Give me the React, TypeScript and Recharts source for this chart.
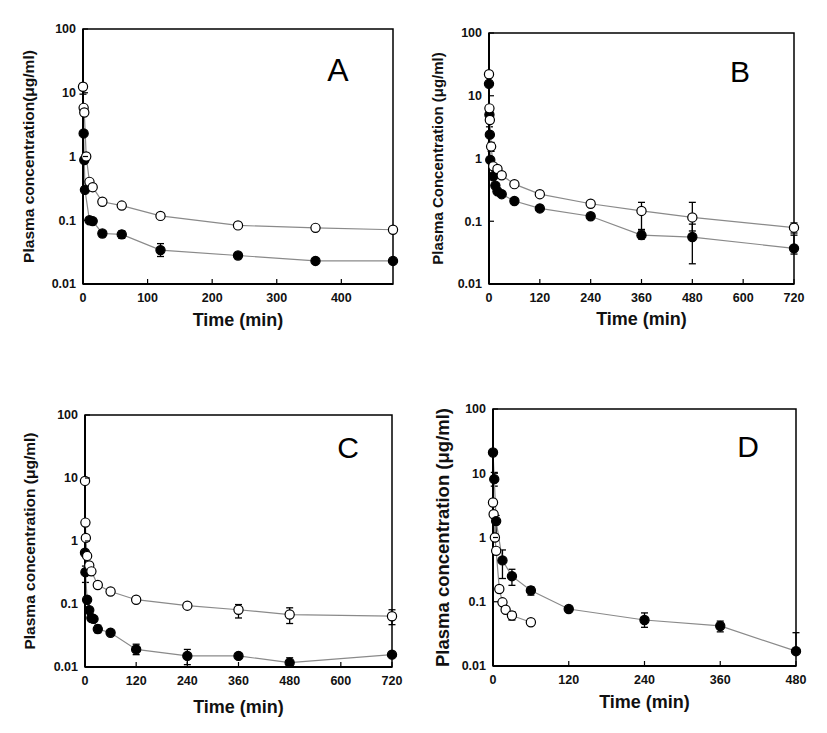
import React from "react";
import { LineChart, Line, XAxis, YAxis, ErrorBar, ReferenceArea } from "recharts";

const FONT = '"Liberation Sans", Arial, Helvetica, sans-serif';
const Y_TICKS = [0.01, 0.1, 1, 10, 100];

// Panel A
const timeA_open = [0, 1, 2, 5, 10, 15, 30, 60, 120, 240, 360, 480];
const concA_open = [12.4, 5.8, 4.9, 1.0, 0.4, 0.33, 0.195, 0.17, 0.117, 0.083, 0.076, 0.071];
const barsA_open = [[0, 9.5, 14]];
const timeA_filled = [1, 2, 3, 10, 15, 30, 60, 120, 240, 360, 480];
const concA_filled = [2.3, 0.88, 0.3, 0.1, 0.097, 0.062, 0.06, 0.034, 0.028, 0.023, 0.023];
const barsA_filled = [[30, 0.055, 0.068], [60, 0.052, 0.068], [120, 0.027, 0.043], [240, 0.025, 0.031], [360, 0.021, 0.025]];

// Panel B
const timeB_open = [0, 1, 2, 5, 10, 20, 30, 60, 120, 240, 360, 480, 720];
const concB_open = [22, 6.3, 4.1, 1.55, 0.75, 0.68, 0.54, 0.39, 0.27, 0.19, 0.146, 0.115, 0.079];
const barsB_open = [[5, 1.3, 1.8], [360, 0.074, 0.2], [480, 0.07, 0.2], [720, 0.065, 0.094]];
const timeB_filled = [0, 1, 2, 3, 10, 15, 20, 30, 60, 120, 240, 360, 480, 720];
const concB_filled = [15.5, 5.0, 2.4, 0.95, 0.52, 0.37, 0.3, 0.27, 0.21, 0.16, 0.12, 0.06, 0.056, 0.037];
const barsB_filled = [[1, 3.2, 6.2], [360, 0.052, 0.07], [480, 0.021, 0.09], [720, 0.03, 0.06]];

// Panel C
const timeC_open = [0, 1, 2, 5, 10, 15, 30, 60, 120, 240, 360, 480, 720];
const concC_open = [9.0, 1.96, 1.12, 0.58, 0.41, 0.33, 0.2, 0.158, 0.117, 0.094, 0.081, 0.068, 0.064];
const barsC_open = [[360, 0.06, 0.098], [480, 0.049, 0.087], [720, 0.047, 0.081]];
const timeC_filled = [0, 1, 5, 10, 15, 20, 30, 60, 120, 240, 360, 480, 720];
const concC_filled = [0.65, 0.32, 0.117, 0.08, 0.06, 0.058, 0.04, 0.035, 0.019, 0.015, 0.015, 0.0117, 0.0157];
const barsC_filled = [[1, 0.22, 0.4], [30, 0.035, 0.046], [120, 0.0157, 0.023], [240, 0.0109, 0.019], [480, 0.0105, 0.014]];

// Panel D
const timeD_open = [0, 1, 3, 5, 10, 15, 20, 30, 60];
const concD_open = [3.5, 2.3, 1.0, 0.62, 0.158, 0.098, 0.075, 0.061, 0.048];
const barsD_open = [[30, 0.052, 0.07]];
const timeD_filled = [0, 2, 5, 15, 30, 60, 120, 240, 360, 480];
const concD_filled = [21, 8.1, 1.8, 0.44, 0.25, 0.15, 0.077, 0.052, 0.042, 0.017];
const barsD_filled = [[2, 6.3, 10.3], [5, 0.9, 2.2], [15, 0.23, 0.64], [30, 0.18, 0.32], [60, 0.127, 0.17], [240, 0.04, 0.067], [360, 0.034, 0.05], [480, 0.017, 0.033]];

const build = (t: number[], c: number[], bars: number[][]) =>
  t.map((ti, i) => {
    const b = bars.find((x) => x[0] === ti);
    return { t: ti, c: c[i], err: b ? [c[i] - b[1], b[2] - c[i]] : [0, 0] };
  });

function Panel(p: any) {
  const axisH = 40;
  const tickM = 9;
  const yTickM = 7;
  const margin = { top: p.t - p.y0, right: p.x0 + p.w - p.r, left: 0, bottom: p.y0 + p.h - p.b - axisH };
  const XTick = (props: any) => {
    const { x, y, payload } = props;
    return (
      <g>
        <line x1={x} x2={x} y1={y - tickM} y2={y - tickM - 5} stroke="#000" strokeWidth={1.2} />
        <text x={x} y={y} dy="0.71em" textAnchor="middle" fontFamily={FONT} fontWeight="bold" fontSize={12.5} fill="#111">
          {payload.value}
        </text>
      </g>
    );
  };
  const YTick = (props: any) => {
    const { x, y, payload } = props;
    return (
      <g>
        <line x1={x + yTickM} x2={x + yTickM + 5} y1={y} y2={y} stroke="#000" strokeWidth={1.2} />
        <text x={x} y={y} dy="0.35em" textAnchor="end" fontFamily={FONT} fontWeight="bold" fontSize={12.5} fill="#111">
          {String(payload.value)}
        </text>
      </g>
    );
  };
  return (
    <div style={{ position: "absolute", left: p.x0, top: p.y0, width: p.w, height: p.h }}>
      <LineChart width={p.w} height={p.h} margin={margin}>
        <XAxis
          type="number"
          dataKey="t"
          domain={[0, p.xMax]}
          ticks={p.xTicks}
          height={axisH}
          tickSize={0}
          tickMargin={tickM}
          tick={XTick}
          axisLine={{ stroke: "#000", strokeWidth: 2 }}
          label={{
            value: "Time (min)",
            position: "bottom",
            offset: p.xLabelOffset,
            style: { fontFamily: FONT, fontWeight: "bold", fontSize: 18, fill: "#111" },
          }}
        />
        <YAxis
          type="number"
          scale="log"
          domain={[0.01, 100]}
          ticks={Y_TICKS}
          width={p.l - p.x0}
          tickSize={0}
          tickMargin={yTickM}
          tick={YTick}
          axisLine={{ stroke: "#000", strokeWidth: 2 }}
          label={{
            value: p.yLabel,
            angle: -90,
            position: "insideLeft",
            offset: p.yLabelX,
            style: { textAnchor: "middle", fontFamily: FONT, fontWeight: "bold", fontSize: p.yLabelSize, fill: "#111" },
          }}
        />
        <ReferenceArea x1={0} x2={p.xMax} y1={0.01} y2={100} fill="none" stroke="#000" strokeWidth={1.5} ifOverflow="visible" />
        {p.series.map((s: any, i: number) => (
          <Line
            key={i}
            data={s.data}
            dataKey="c"
            stroke="#8a8a8a"
            strokeWidth={1.2}
            dot={{ r: 4.6, fill: s.filled ? "#000" : "#fff", stroke: "#000", strokeWidth: 1.2 }}
            activeDot={false}
            isAnimationActive={false}
          >
            <ErrorBar dataKey="err" width={3.5} stroke="#000" strokeWidth={1.3} direction="y" />
          </Line>
        ))}
      </LineChart>
      <div
        style={{
          position: "absolute",
          left: p.letterX - p.x0,
          top: p.letterY - p.y0,
          transform: "translate(-50%, -50%)",
          fontFamily: FONT,
          fontSize: p.letterSize,
          lineHeight: 1,
          color: "#000",
        }}
      >
        {p.letter}
      </div>
    </div>
  );
}

export default function App() {
  const A = [
    { data: build(timeA_filled, concA_filled, barsA_filled), filled: true },
    { data: build(timeA_open, concA_open, barsA_open), filled: false },
  ];
  const B = [
    { data: build(timeB_filled, concB_filled, barsB_filled), filled: true },
    { data: build(timeB_open, concB_open, barsB_open), filled: false },
  ];
  const C = [
    { data: build(timeC_filled, concC_filled, barsC_filled), filled: true },
    { data: build(timeC_open, concC_open, barsC_open), filled: false },
  ];
  const D = [
    { data: build(timeD_open, concD_open, barsD_open), filled: false },
    { data: build(timeD_filled, concD_filled, barsD_filled), filled: true },
  ];
  return (
    <div style={{ position: "absolute", left: 0, top: 0, width: 827, height: 733, background: "#fff" }}>
      <Panel x0={0} y0={0} w={410} h={340} l={83} t={29} r={393} b={284} xMax={480} xTicks={[0, 100, 200, 300, 400]}
        yLabel="Plasma concentration(μg/ml)" yLabelSize={15.5} yLabelX={28} xLabelOffset={-11}
        letter="A" letterX={338} letterY={70} letterSize={32} series={A} />
      <Panel x0={410} y0={0} w={417} h={340} l={489} t={33} r={794} b={284} xMax={720} xTicks={[0, 120, 240, 360, 480, 600, 720]}
        yLabel="Plasma Concentration (μg/ml)" yLabelSize={15} yLabelX={28} xLabelOffset={-12}
        letter="B" letterX={740} letterY={72} letterSize={30} series={B} />
      <Panel x0={0} y0={360} w={410} h={373} l={85} t={415} r={392} b={667} xMax={720} xTicks={[0, 120, 240, 360, 480, 600, 720]}
        yLabel="Plasma concentration (μg/ml)" yLabelSize={15.5} yLabelX={29} xLabelOffset={-7}
        letter="C" letterX={348} letterY={448} letterSize={30} series={C} />
      <Panel x0={410} y0={360} w={417} h={373} l={493} t={409} r={796} b={666} xMax={480} xTicks={[0, 120, 240, 360, 480]}
        yLabel="Plasma concentration (μg/ml)" yLabelSize={18.5} yLabelX={32} xLabelOffset={-11}
        letter="D" letterX={748} letterY={447} letterSize={30} series={D} />
    </div>
  );
}
